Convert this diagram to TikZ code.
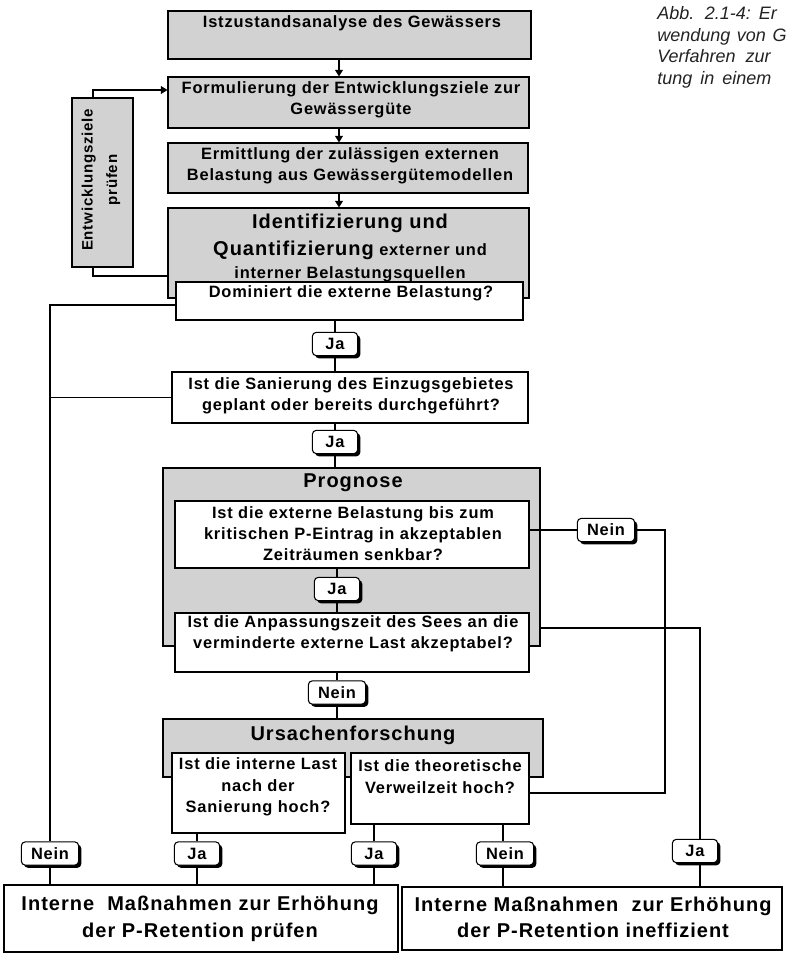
\documentclass[tikz,border=0pt]{standalone}
\usepackage{fontspec}
\setmainfont{Liberation Sans}[LetterSpace=5]
\newfontfamily\capfont{Liberation Sans}
\usetikzlibrary{fit,shadows,arrows.meta}
\definecolor{boxgray}{RGB}{210,210,210}
\definecolor{capgray}{RGB}{35,35,35}
\begin{document}
\begin{tikzpicture}[x=0.75pt,y=-0.75pt,
  every node/.style={font=\bfseries\fontsize{12.3}{16}\selectfont},
  gbox/.style={draw=black, line width=0.8pt, fill=boxgray, inner sep=0pt},
  wbox/.style={draw=black, line width=0.8pt, fill=white, inner sep=0pt},
  txt/.style={align=center, inner sep=0pt},
  big/.style={font=\bfseries\fontsize{15}{20}\selectfont},
  small/.style={font=\bfseries\fontsize{11.3}{18.5}\selectfont},
  lab/.style={draw=black, line width=0.8pt, fill=white, rounded corners=3pt,
    minimum height=17.5pt, inner sep=0pt,
    drop shadow={shadow xshift=2pt, shadow yshift=-2pt, fill=black, opacity=1}},
  ja/.style={lab, minimum width=34pt},
  nein/.style={lab, minimum width=43pt},
  conn/.style={line width=0.8pt},
  arr/.style={line width=0.8pt, -{Triangle[length=5pt,width=6pt]}},
  captxt/.style={font=\capfont\itshape\fontsize{13.5}{15}\selectfont, text=capgray, inner sep=0pt, anchor=base west},
]
\useasboundingbox (0,0) rectangle (786,953);

% boxes
\node[gbox, fit={(168,11) (531,59)}] (b1) {};
\node[gbox, fit={(168,77) (529,128)}] (b2) {};
\node[gbox, fit={(168,143) (528,193)}] (b3) {};
\node[gbox, fit={(168,208) (529,298)}] (b4) {};
\node[wbox, fit={(176,282) (523,320)}] (b5) {};
\node[gbox, fit={(72,98) (133,267)}] (f) {};
\node[wbox, fit={(172,372) (528,423)}] (b6) {};
\node[gbox, fit={(163,468) (540,646)}] (p) {};
\node[wbox, fit={(175,501) (529,568)}] (q1) {};
\node[wbox, fit={(175,613) (529,672)}] (q2) {};
\node[gbox, fit={(163,719) (543,777)}] (u) {};
\node[wbox, fit={(172,753) (345,833)}] (ui) {};
\node[wbox, fit={(351,753) (529,824)}] (ut) {};
\node[wbox, fit={(4,885) (398,952)}] (e1) {};
\node[wbox, fit={(402,887) (782,950)}] (e2) {};

% texts
\node[txt] (t1) at (352,23) {Istzustandsanalyse des Gewässers};
\node[txt] (t2) at (351,99.5) {Formulierung der Entwicklungsziele zur\\Gewässergüte};
\node[txt] (t3) at (350,166) {Ermittlung der zulässigen externen\\Belastung aus Gewässergütemodellen};
\node[txt,big] (t4a) at (350,223) {Identifizierung und};
\node[txt] (t4b) at (350,250) {{\fontsize{15}{18}\selectfont Quantifizierung} externer und};
\node[txt] (t4c) at (350,274) {interner Belastungsquellen};
\node[txt] (t5) at (351,293) {Dominiert die externe Belastung?};
\node[txt,small,rotate=90] (tf) at (101,180) {Entwicklungsziele\\prüfen};
\node[txt] (t6) at (351,395.5) {Ist die Sanierung des Einzugsgebietes\\geplant oder bereits durchgeführt?};
\node[txt,big] (tp) at (353,483) {Prognose};
\node[txt] (tq1) at (353,533.5) {Ist die externe Belastung bis zum\\kritischen P-Eintrag in akzeptablen\\Zeiträumen senkbar?};
\node[txt] (tq2) at (353,634) {Ist die Anpassungszeit des Sees an die\\verminderte externe Last akzeptabel?};
\node[txt,big] (tu) at (353,735) {Ursachenforschung};
\node[txt] (tui) at (258,787) {Ist die interne Last\\nach der\\Sanierung hoch?};
\node[txt] (tut) at (440,776.5) {Ist die theoretische\\Verweilzeit hoch?};
\node[txt,big] (te1) at (200,918.5) {Interne\ \ Maßnahmen zur Erhöhung\\der P-Retention prüfen};
\node[txt,big] (te2) at (593,917.5) {Interne Maßnahmen\ \ zur Erhöhung\\der P-Retention ineffizient};

% helper coordinates
\coordinate (xa) at (339,0);
\coordinate (fx) at (93,0);
\coordinate (fy1) at (0,90);
\coordinate (fy2) at (0,276);
\coordinate (lx) at (50,0);
\coordinate (ly1) at (0,305);
\coordinate (ry1) at (0,530);
\coordinate (rx1) at (665,0);
\coordinate (ry2) at (0,793);
\coordinate (ry3) at (0,628);
\coordinate (rx2) at (700,0);
\coordinate (nx4) at (503,0);

% connectors
\draw[arr] (b1.south -| xa) -- (b2.north -| xa);
\draw[arr] (b2.south -| xa) -- (b3.north -| xa);
\draw[arr] (b3.south -| xa) -- (b4.north -| xa);
\draw[arr] (f.north -| fx) -- (fx |- fy1) -- (b2.west |- fy1);
\draw[conn] (f.south -| fx) -- (fx |- fy2) -- (b4.west |- fy2);

% labels
\node[ja] (j1) at (335,344) {Ja};
\node[ja] (j2) at (335,442) {Ja};
\node[ja] (j3) at (337,589) {Ja};
\node[nein] (n1) at (337,692.5) {Nein};
\node[nein] (n2) at (606,530) {Nein};
\node[nein] (n3) at (50,853.5) {Nein};
\node[ja] (j4) at (197,853.5) {Ja};
\node[ja] (j5) at (374,853.5) {Ja};
\node[nein] (n4) at (505,853.5) {Nein};
\node[ja] (j6) at (695,851) {Ja};

\draw[conn] (b5.west |- ly1) -- (lx |- ly1) -- (n3.north);
\draw[conn] (b6.west) -- (lx |- b6.west);
\draw[conn] (n3.south) -- (e1.north -| n3);

\draw[conn] (b5.south -| j1) -- (j1.north);
\draw[conn] (j1.south) -- (b6.north -| j1);
\draw[conn] (b6.south -| j2) -- (j2.north);
\draw[conn] (j2.south) -- (p.north -| j2);
\draw[conn] (q1.south -| j3) -- (j3.north);
\draw[conn] (j3.south) -- (q2.north -| j3);
\draw[conn] (q2.south -| n1) -- (n1.north);
\draw[conn] (n1.south) -- (u.north -| n1);

\draw[conn] (q1.east |- ry1) -- (n2.west);
\draw[conn] (n2.east) -- (rx1 |- n2.east) -- (rx1 |- ry2) -- (ut.east |- ry2);
\draw[conn] (p.east |- ry3) -- (rx2 |- ry3) -- (rx2 |- j6.north);
\draw[conn] (j6.south -| rx2) -- (e2.north -| rx2);

\draw[conn] (ui.south -| j4) -- (j4.north);
\draw[conn] (j4.south) -- (e1.north -| j4);
\draw[conn] (ut.south -| j5) -- (j5.north);
\draw[conn] (j5.south) -- (e1.north -| j5);
\draw[conn] (ut.south -| nx4) -- (n4.north -| nx4);
\draw[conn] (n4.south -| nx4) -- (e2.north -| nx4);

% caption (its right part lies beyond the picture's edge, as in the reference)
\node[captxt] (c1) at (657,19.5) {Abb.\hspace{8pt}2.1-4:\hspace{6pt}Er};
\node[captxt] (c2) at (657,41) {wendung\hspace{5pt}von\hspace{5pt}G};
\node[captxt] (c3) at (657,62.5) {Verfahren\hspace{7.5pt}zur};
\node[captxt] (c4) at (657,84) {tung\hspace{6pt}in\hspace{6pt}einem};
\end{tikzpicture}
\end{document}
